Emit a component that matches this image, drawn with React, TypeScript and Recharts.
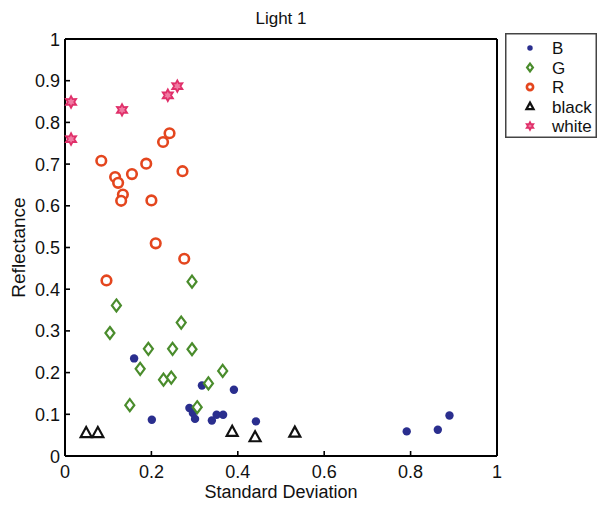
import { ScatterChart, Scatter, XAxis, YAxis, Legend } from 'recharts'

document.body.style.margin = '0'

const FONT = '"Liberation Sans", Arial, sans-serif'

// reflectance vs. standard deviation
const bluePts = [
  { sd: 0.16, r: 0.234 }, { sd: 0.317, r: 0.169 }, { sd: 0.391, r: 0.159 }, { sd: 0.201, r: 0.087 },
  { sd: 0.288, r: 0.115 }, { sd: 0.296, r: 0.103 }, { sd: 0.301, r: 0.089 }, { sd: 0.34, r: 0.085 },
  { sd: 0.351, r: 0.099 }, { sd: 0.366, r: 0.099 }, { sd: 0.442, r: 0.083 }, { sd: 0.791, r: 0.059 },
  { sd: 0.863, r: 0.063 }, { sd: 0.89, r: 0.097 },
]
const greenPts = [
  { sd: 0.294, r: 0.418 }, { sd: 0.119, r: 0.361 }, { sd: 0.104, r: 0.295 }, { sd: 0.269, r: 0.32 },
  { sd: 0.193, r: 0.257 }, { sd: 0.249, r: 0.257 }, { sd: 0.294, r: 0.256 }, { sd: 0.174, r: 0.209 },
  { sd: 0.228, r: 0.183 }, { sd: 0.246, r: 0.188 }, { sd: 0.365, r: 0.204 }, { sd: 0.332, r: 0.174 },
  { sd: 0.15, r: 0.122 }, { sd: 0.306, r: 0.117 },
]
const redPts = [
  { sd: 0.084, r: 0.708 }, { sd: 0.116, r: 0.669 }, { sd: 0.123, r: 0.655 }, { sd: 0.155, r: 0.676 },
  { sd: 0.188, r: 0.701 }, { sd: 0.134, r: 0.627 }, { sd: 0.13, r: 0.612 }, { sd: 0.2, r: 0.613 },
  { sd: 0.227, r: 0.753 }, { sd: 0.242, r: 0.774 }, { sd: 0.272, r: 0.683 }, { sd: 0.21, r: 0.51 },
  { sd: 0.276, r: 0.473 }, { sd: 0.096, r: 0.421 },
]
const blackPts = [
  { sd: 0.049, r: 0.055 }, { sd: 0.076, r: 0.055 }, { sd: 0.387, r: 0.058 }, { sd: 0.44, r: 0.045 },
  { sd: 0.532, r: 0.056 },
]
const whitePts = [
  { sd: 0.014, r: 0.849 }, { sd: 0.014, r: 0.76 }, { sd: 0.132, r: 0.83 }, { sd: 0.238, r: 0.865 },
  { sd: 0.26, r: 0.887 },
]

const xTicks = [0, 0.2, 0.4, 0.6, 0.8, 1]
const yTicks = [0, 0.1, 0.2, 0.3, 0.4, 0.5, 0.6, 0.7, 0.8, 0.9, 1]

function hexagram(cx: number, cy: number, ro: number, ri: number) {
  const pts: string[] = []
  for (let i = 0; i < 12; i++) {
    const a = (Math.PI / 6) * i - Math.PI / 2
    const rad = i % 2 === 0 ? ro : ri
    pts.push(`${cx + rad * Math.cos(a)},${cy + rad * Math.sin(a)}`)
  }
  return pts.join(' ')
}

// marker glyphs, s = size factor (legend uses smaller ones)
const markers: Record<string, (cx: number, cy: number, s?: number) => JSX.Element> = {
  B: (cx, cy, s = 1) => <circle cx={cx} cy={cy} r={4.2 * s} fill="#2a2e8e" />,
  G: (cx, cy, s = 1) => (
    <polygon
      points={`${cx},${cy - 6 * s} ${cx + 4.5 * s},${cy} ${cx},${cy + 6 * s} ${cx - 4.5 * s},${cy}`}
      fill="#fff"
      stroke="#4a8c2c"
      strokeWidth={2.2}
    />
  ),
  R: (cx, cy, s = 1) => <circle cx={cx} cy={cy} r={4.8 * s} fill="#fff" stroke="#e4461e" strokeWidth={2.6} />,
  black: (cx, cy, s = 1) => (
    <polygon
      points={`${cx},${cy - 6 * s} ${cx + 5.5 * s},${cy + 4 * s} ${cx - 5.5 * s},${cy + 4 * s}`}
      fill="#fff"
      stroke="#111"
      strokeWidth={2.2}
    />
  ),
  white: (cx, cy, s = 1) => (
    <polygon points={hexagram(cx, cy, 5.8 * s, 3.2 * s)} fill="#f07aa2" stroke="#e0306a" strokeWidth={1.8} />
  ),
}

const BottomTick = ({ x, y, payload }: any) => (
  <g>
    <line x1={x} y1={y} x2={x} y2={y - 5} stroke="#000" strokeWidth={1.6} />
    <text x={x} y={y + 22} textAnchor="middle" fontSize={18} fontFamily={FONT} fill="#111">
      {String(payload.value)}
    </text>
  </g>
)

const LeftTick = ({ x, y, payload }: any) => (
  <g>
    <line x1={x} y1={y} x2={x + 5} y2={y} stroke="#000" strokeWidth={1.6} />
    <text x={x - 5} y={y + 6.5} textAnchor="end" fontSize={18} fontFamily={FONT} fill="#111">
      {String(payload.value)}
    </text>
  </g>
)

const TopTick = ({ x, y }: any) => <line x1={x} y1={y} x2={x} y2={y + 5} stroke="#000" strokeWidth={1.6} />
const RightTick = ({ x, y }: any) => <line x1={x} y1={y} x2={x - 5} y2={y} stroke="#000" strokeWidth={1.6} />

const LegendBox = ({ payload }: any) => (
  <svg width={92} height={105} style={{ display: 'block' }}>
    <rect x={0.75} y={0.75} width={90.5} height={103.5} fill="#fff" stroke="#444" strokeWidth={1.5} />
    {(payload || []).map((entry: any, i: number) => {
      const cy = 15 + i * 19.5
      return (
        <g key={entry.value}>
          {markers[entry.value](25, cy, 0.65)}
          <text x={47} y={cy + 6} fontSize={17} fontFamily={FONT} fill="#111">
            {entry.value}
          </text>
        </g>
      )
    })}
  </svg>
)

export default function App() {
  return (
    <ScatterChart width={597} height={506} margin={{ top: 38, right: 99, bottom: 0, left: 0 }} style={{ fontFamily: FONT }}>
      <XAxis
        dataKey="sd"
        type="number"
        domain={[0, 1]}
        ticks={xTicks}
        height={50}
        tickSize={0}
        tickMargin={0}
        tickLine={false}
        tick={<BottomTick />}
        axisLine={{ stroke: '#000', strokeWidth: 2 }}
        label={{
          content: ({ viewBox }: any) => (
            <text
              x={viewBox.x + viewBox.width / 2}
              y={viewBox.y + 42}
              textAnchor="middle"
              fontSize={18}
              fontFamily={FONT}
              fill="#111"
            >
              Standard Deviation
            </text>
          ),
        }}
      />
      <XAxis
        xAxisId="top"
        orientation="top"
        type="number"
        domain={[0, 1]}
        ticks={xTicks}
        height={1}
        tickSize={0}
        tickMargin={0}
        tickLine={false}
        tick={<TopTick />}
        axisLine={{ stroke: '#000', strokeWidth: 2 }}
        label={{
          content: ({ viewBox }: any) => (
            <text
              x={viewBox.x + viewBox.width / 2}
              y={viewBox.y - 14}
              textAnchor="middle"
              fontSize={17}
              fontFamily={FONT}
              fill="#111"
            >
              Light 1
            </text>
          ),
        }}
      />
      <YAxis
        dataKey="r"
        type="number"
        domain={[0, 1]}
        ticks={yTicks}
        width={65}
        tickSize={0}
        tickMargin={0}
        tickLine={false}
        tick={<LeftTick />}
        axisLine={{ stroke: '#000', strokeWidth: 2 }}
        label={{
          content: ({ viewBox }: any) => {
            const cx = viewBox.x + 18
            const cy = viewBox.y + viewBox.height / 2
            return (
              <text
                x={cx}
                y={cy}
                transform={`rotate(-90 ${cx} ${cy})`}
                textAnchor="middle"
                dominantBaseline="central"
                fontSize={19}
                fontFamily={FONT}
                fill="#111"
              >
                Reflectance
              </text>
            )
          },
        }}
      />
      <YAxis
        yAxisId="right"
        orientation="right"
        type="number"
        domain={[0, 1]}
        ticks={yTicks}
        width={1}
        tickSize={0}
        tickMargin={0}
        tickLine={false}
        tick={<RightTick />}
        axisLine={{ stroke: '#000', strokeWidth: 2 }}
      />
      <Legend
        layout="horizontal"
        verticalAlign="middle"
        align="center"
        wrapperStyle={{ top: 33, left: 505, width: 92, height: 105 }}
        content={<LegendBox />}
      />
      <Scatter name="B" data={bluePts} fill="#2a2e8e" isAnimationActive={false} shape={(p: any) => markers.B(p.cx, p.cy)} />
      <Scatter name="G" data={greenPts} fill="#4a8c2c" isAnimationActive={false} shape={(p: any) => markers.G(p.cx, p.cy)} />
      <Scatter name="R" data={redPts} fill="#e4461e" isAnimationActive={false} shape={(p: any) => markers.R(p.cx, p.cy)} />
      <Scatter name="black" data={blackPts} fill="#111" isAnimationActive={false} shape={(p: any) => markers.black(p.cx, p.cy)} />
      <Scatter name="white" data={whitePts} fill="#e0306a" isAnimationActive={false} shape={(p: any) => markers.white(p.cx, p.cy)} />
    </ScatterChart>
  )
}
